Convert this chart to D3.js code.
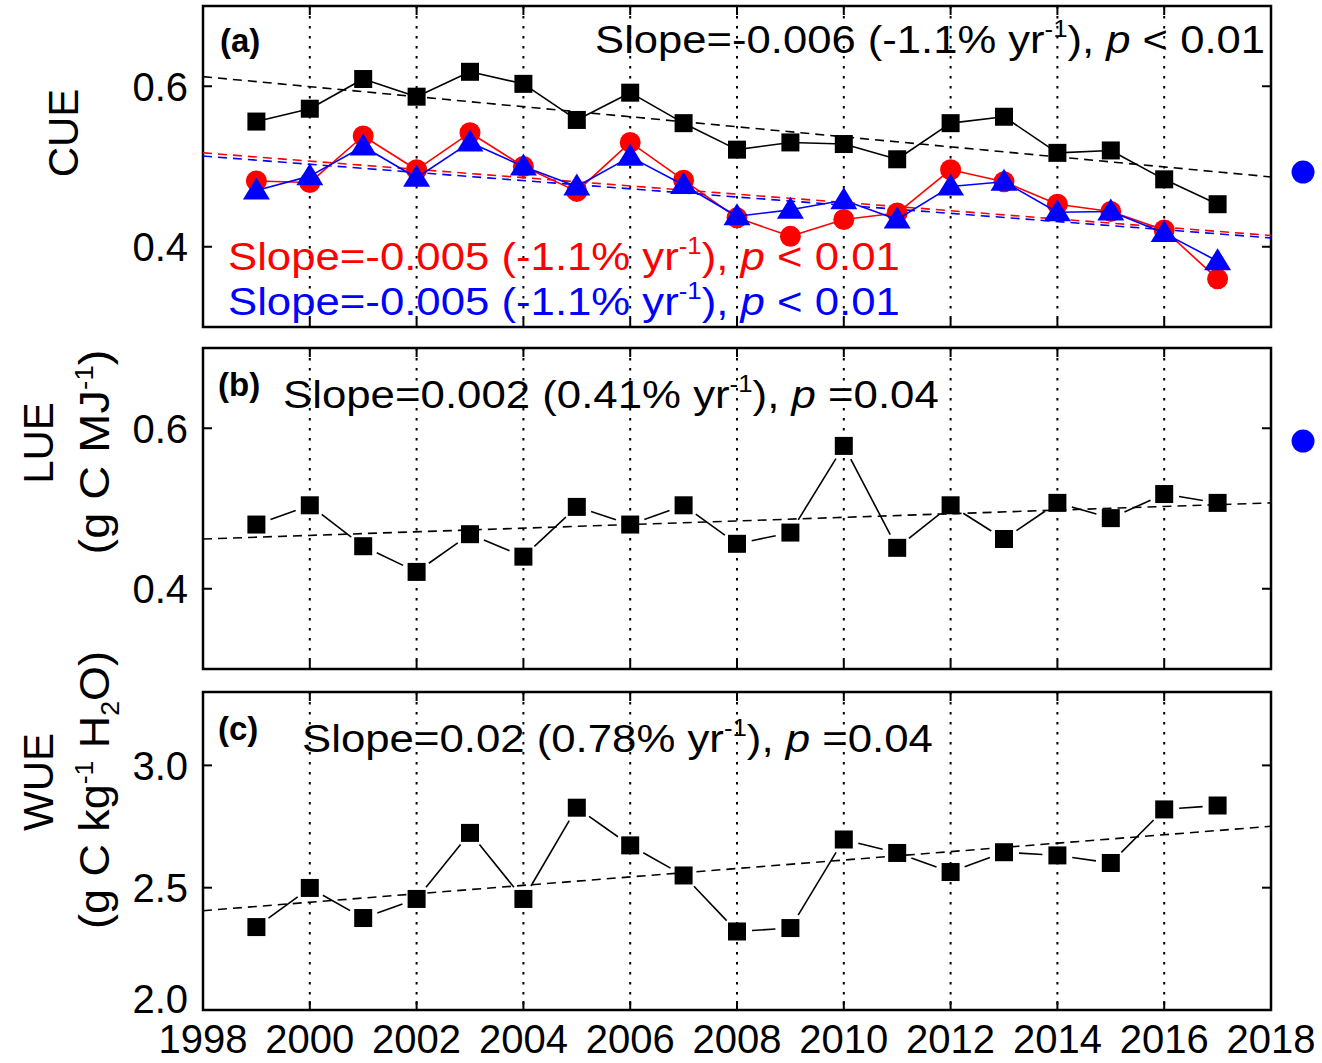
<!DOCTYPE html>
<html>
<head>
<meta charset="utf-8">
<script src="https://cdn.jsdelivr.net/npm/d3@7"></script>
<style>
  body { margin: 0; background: #fff; }
  text { font-family: "Liberation Sans", Arial, sans-serif; }
</style>
</head>
<body>
<div id="chart"></div>
<script>
// Datos
const years = [1999, 2000, 2001, 2002, 2003, 2004, 2005, 2006, 2007, 2008,
  2009, 2010, 2011, 2012, 2013, 2014, 2015, 2016, 2017];
const xTicks = [1998, 2000, 2002, 2004, 2006, 2008, 2010, 2012, 2014, 2016, 2018];

const cueBlack = [0.556, 0.572, 0.609, 0.587, 0.618, 0.603, 0.558, 0.592, 0.554, 0.521,
  0.530, 0.528, 0.509, 0.554, 0.562, 0.517, 0.520, 0.484, 0.453];
const cueRed = [0.482, 0.480, 0.538, 0.496, 0.542, 0.500, 0.469, 0.530, 0.483, 0.436,
  0.413, 0.434, 0.442, 0.496, 0.481, 0.453, 0.444, 0.421, 0.360];
const cueBlue = [0.470, 0.488, 0.525, 0.486, 0.530, 0.500, 0.475, 0.512, 0.477, 0.438,
  0.446, 0.458, 0.434, 0.475, 0.481, 0.443, 0.444, 0.417, 0.382];
const lue = [0.480, 0.504, 0.453, 0.421, 0.468, 0.440, 0.502, 0.480, 0.504, 0.456,
  0.470, 0.578, 0.451, 0.504, 0.462, 0.507, 0.488, 0.518, 0.507];
const wue = [2.339, 2.499, 2.376, 2.454, 2.724, 2.454, 2.827, 2.673, 2.550, 2.321,
  2.335, 2.697, 2.642, 2.564, 2.645, 2.632, 2.601, 2.820, 2.836];

// Tendencias: valor en 1998 y en 2018
const trendCueBlack = [0.612, 0.487];
const trendCueRed = [0.517, 0.414];
const trendCueBlue = [0.513, 0.411];
const trendLue = [0.462, 0.507];
const trendWue = [2.406, 2.751];

// Puntos azules sueltos a la derecha (año, valor)
const strayA = [2018.6, 0.493];
const strayB = [2018.6, 0.584];

const width = 1322, height = 1063;
const svg = d3.select("#chart").append("svg")
  .attr("width", width).attr("height", height);

const x = d3.scaleLinear().domain([1998, 2018]).range([203, 1271]);

const panels = [
  { top: 6, bottom: 327, domain: [0.3, 0.7], ticks: [0.4, 0.6] },
  { top: 348, bottom: 669, domain: [0.3, 0.7], ticks: [0.4, 0.6] },
  { top: 692, bottom: 1010, domain: [2.0, 3.3], ticks: [2.0, 2.5, 3.0] },
];
panels.forEach((p) => {
  p.y = d3.scaleLinear().domain(p.domain).range([p.bottom, p.top]);
});
const fmt = d3.format(".1f");
const tickLen = 9;

// Marcos, rejilla y ejes
panels.forEach((p) => {
  const g = svg.append("g");
  // rejilla vertical punteada
  g.selectAll("line.grid")
    .data(xTicks.slice(1, -1))
    .enter().append("line")
    .attr("x1", (d) => x(d)).attr("x2", (d) => x(d))
    .attr("y1", p.top).attr("y2", p.bottom)
    .attr("stroke", "#000").attr("stroke-width", 2)
    .attr("stroke-dasharray", "2.5,7.5");

  // ticks inferiores y superiores (hacia dentro)
  g.selectAll("line.xb").data(xTicks).enter().append("line")
    .attr("x1", (d) => x(d)).attr("x2", (d) => x(d))
    .attr("y1", p.bottom).attr("y2", p.bottom - tickLen)
    .attr("stroke", "#000").attr("stroke-width", 2);
  g.selectAll("line.xt").data(xTicks).enter().append("line")
    .attr("x1", (d) => x(d)).attr("x2", (d) => x(d))
    .attr("y1", p.top).attr("y2", p.top + tickLen)
    .attr("stroke", "#000").attr("stroke-width", 2);

  // ticks y izquierda y derecha
  g.selectAll("line.yl").data(p.ticks).enter().append("line")
    .attr("x1", x.range()[0]).attr("x2", x.range()[0] + tickLen)
    .attr("y1", (d) => p.y(d)).attr("y2", (d) => p.y(d))
    .attr("stroke", "#000").attr("stroke-width", 2);
  g.selectAll("line.yr").data(p.ticks).enter().append("line")
    .attr("x1", x.range()[1]).attr("x2", x.range()[1] - tickLen)
    .attr("y1", (d) => p.y(d)).attr("y2", (d) => p.y(d))
    .attr("stroke", "#000").attr("stroke-width", 2);

  // etiquetas y (la del borde inferior sube un poco)
  g.selectAll("text.yl").data(p.ticks).enter().append("text")
    .attr("x", 188)
    .attr("y", (d) => p.y(d) - (d === p.domain[0] ? 11 : 0))
    .attr("dy", "0.36em")
    .attr("text-anchor", "end")
    .style("font-size", "40px")
    .text(fmt);

  g.append("rect")
    .attr("x", x.range()[0]).attr("y", p.top)
    .attr("width", x.range()[1] - x.range()[0])
    .attr("height", p.bottom - p.top)
    .attr("fill", "none").attr("stroke", "#000").attr("stroke-width", 2.5);
});

// etiquetas x (solo panel inferior)
svg.selectAll("text.xl").data(xTicks).enter().append("text")
  .attr("x", (d) => x(d)).attr("y", 1053)
  .attr("text-anchor", "middle")
  .style("font-size", "40px")
  .text((d) => d);

// Auxiliares
const trendLine = (p, vals, color) => {
  svg.append("line")
    .attr("x1", x(1998)).attr("y1", p.y(vals[0]))
    .attr("x2", x(2018)).attr("y2", p.y(vals[1]))
    .attr("stroke", color).attr("stroke-width", 1.6)
    .attr("stroke-dasharray", "9,6");
};

const seriesLine = (p, vals, color, gap) => {
  const pts = vals.map((v, i) => [x(years[i]), p.y(v)]);
  const segs = pts.slice(1).map((b, i) => {
    const a = pts[i];
    const dx = b[0] - a[0], dy = b[1] - a[1];
    const L = Math.hypot(dx, dy) || 1;
    const g = Math.min(gap, L / 2 - 1);
    return [a[0] + (dx / L) * g, a[1] + (dy / L) * g, b[0] - (dx / L) * g, b[1] - (dy / L) * g];
  });
  svg.append("g").selectAll("line").data(segs).enter().append("line")
    .attr("x1", (d) => d[0]).attr("y1", (d) => d[1])
    .attr("x2", (d) => d[2]).attr("y2", (d) => d[3])
    .attr("stroke", color).attr("stroke-width", 1.6);
};

const squares = (p, vals) => {
  const s = 18;
  svg.append("g").selectAll("rect").data(vals).enter().append("rect")
    .attr("x", (d, i) => x(years[i]) - s / 2)
    .attr("y", (d) => p.y(d) - s / 2)
    .attr("width", s).attr("height", s)
    .attr("fill", "#000");
};

const circles = (p, vals, color) => {
  svg.append("g").selectAll("circle").data(vals).enter().append("circle")
    .attr("cx", (d, i) => x(years[i]))
    .attr("cy", (d) => p.y(d))
    .attr("r", 10.5)
    .attr("fill", color);
};

const triangles = (p, vals, color) => {
  svg.append("g").selectAll("path").data(vals).enter().append("path")
    .attr("d", "M0,-13L13.5,9L-13.5,9Z")
    .attr("transform", (d, i) => `translate(${x(years[i])},${p.y(d)})`)
    .attr("fill", color);
};

// Panel (a)
const pa = panels[0], pb = panels[1], pc = panels[2];
trendLine(pa, trendCueBlack, "#000");
trendLine(pa, trendCueRed, "#ff0000");
trendLine(pa, trendCueBlue, "#0000ff");
seriesLine(pa, cueBlack, "#000", 0);
squares(pa, cueBlack);
seriesLine(pa, cueRed, "#ff0000", 0);
circles(pa, cueRed, "#ff0000");
seriesLine(pa, cueBlue, "#0000ff", 0);
triangles(pa, cueBlue, "#0000ff");

// Panel (b)
trendLine(pb, trendLue, "#000");
seriesLine(pb, lue, "#000", 15);
squares(pb, lue);

// Panel (c)
trendLine(pc, trendWue, "#000");
seriesLine(pc, wue, "#000", 15);
squares(pc, wue);

// puntos azules sueltos
svg.append("circle").attr("cx", x(strayA[0])).attr("cy", pa.y(strayA[1])).attr("r", 11.5).attr("fill", "#0000ff");
svg.append("circle").attr("cx", x(strayB[0])).attr("cy", pb.y(strayB[1])).attr("r", 11.5).attr("fill", "#0000ff");

// Estira un texto a lo largo de su dirección hasta un ancho dado
const stretchTo = (t, target) => {
  const w = t.node().getBBox().width || 1;
  t.attr("transform", `scale(${target / w},1)`);
};

// Textos de pendiente
const slopeText = (xPos, yPos, anchor, color, pre, pct, pval, target) => {
  const g = svg.append("g").attr("transform", `translate(${xPos},${yPos})`);
  const t = g.append("text")
    .attr("text-anchor", anchor)
    .attr("fill", color)
    .style("font-size", "39px");
  t.append("tspan").text(pre + " (" + pct + "% yr");
  t.append("tspan").attr("dy", -16).style("font-size", "23px").text("-1");
  t.append("tspan").attr("dy", 16).text("), ");
  t.append("tspan").style("font-style", "italic").text("p");
  t.append("tspan").text(pval);
  stretchTo(t, target);
};

slopeText(1265, 53, "end", "#000", "Slope=-0.006", "-1.1", " < 0.01", 670);
slopeText(228, 270, "start", "#ff0000", "Slope=-0.005", "-1.1", " < 0.01", 672);
slopeText(228, 315, "start", "#0000ff", "Slope=-0.005", "-1.1", " < 0.01", 672);
slopeText(283, 408, "start", "#000", "Slope=0.002", "0.41", " =0.04", 656);
slopeText(302, 752, "start", "#000", "Slope=0.02", "0.78", " =0.04", 631);

// Etiquetas de panel
[["(a)", 220, 52], ["(b)", 218, 396], ["(c)", 218, 740]].forEach(([lab, lx, ly]) => {
  svg.append("text").attr("x", lx).attr("y", ly)
    .style("font-size", "33px").style("font-weight", "bold").text(lab);
});

// Títulos de ejes Y
const yTitle = (cx, cy, target, build) => {
  const g = svg.append("g").attr("transform", `translate(${cx},${cy}) rotate(-90)`);
  const t = g.append("text")
    .attr("text-anchor", "middle")
    .style("font-size", "42px");
  build(t);
  if (target) stretchTo(t, target);
};
yTitle(78, 133, 0, (t) => t.text("CUE"));
yTitle(53, 443, 0, (t) => t.text("LUE"));
yTitle(109, 452, 205, (t) => {
  t.append("tspan").text("(g C MJ");
  t.append("tspan").attr("dy", -16).style("font-size", "25px").text("-1");
  t.append("tspan").attr("dy", 16).text(")");
});
yTitle(53, 782, 0, (t) => t.text("WUE"));
yTitle(109, 790, 278, (t) => {
  t.append("tspan").text("(g C kg");
  t.append("tspan").attr("dy", -16).style("font-size", "25px").text("-1");
  t.append("tspan").attr("dy", 16).text(" H");
  t.append("tspan").attr("dy", 10).style("font-size", "25px").text("2");
  t.append("tspan").attr("dy", -10).text("O)");
});
</script>
</body>
</html>
